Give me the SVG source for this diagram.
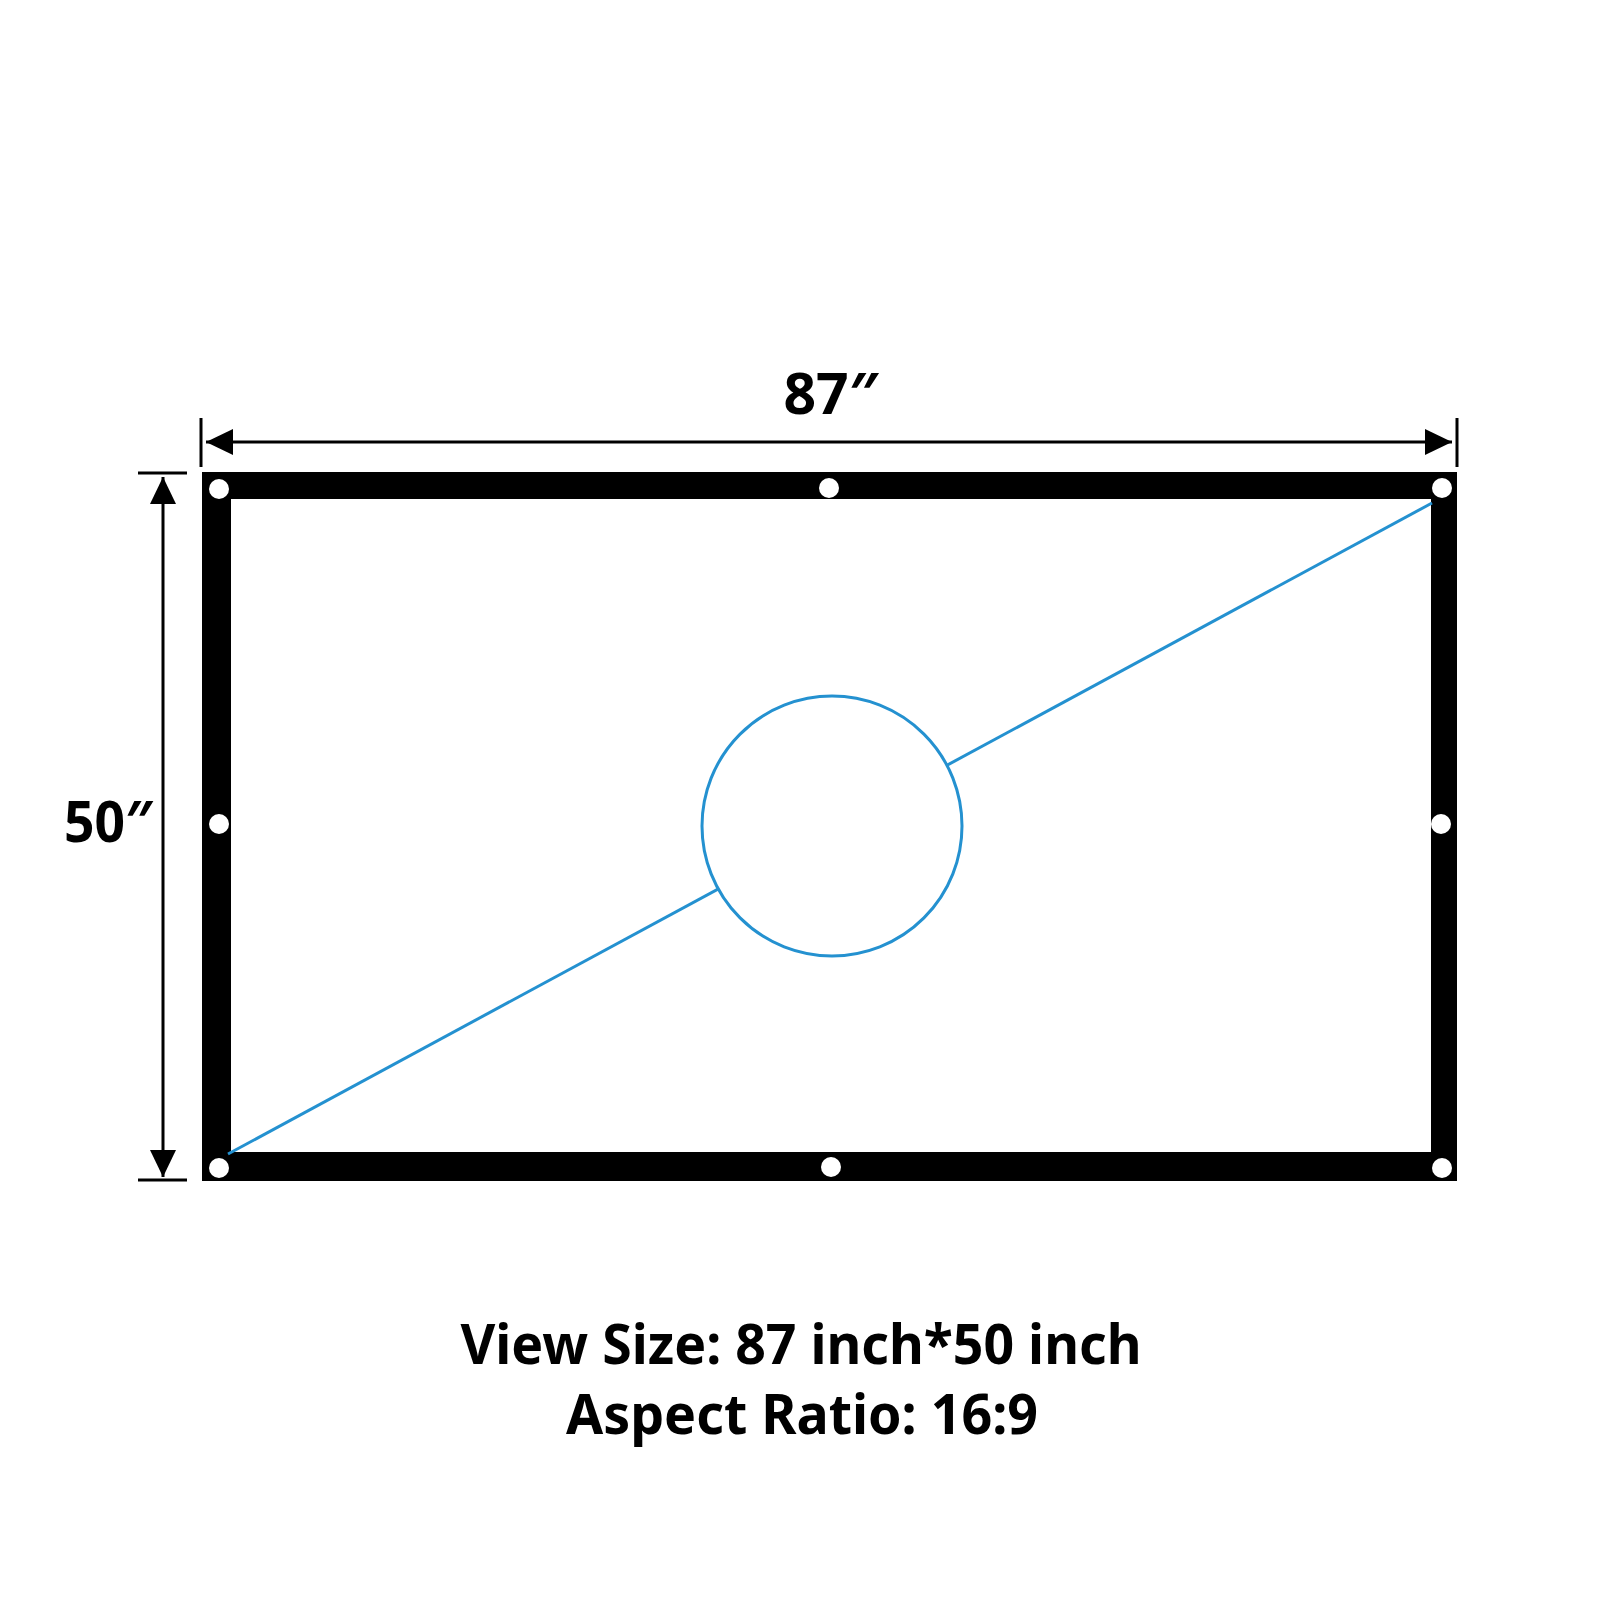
<svg xmlns="http://www.w3.org/2000/svg" width="1600" height="1600" viewBox="0 0 1600 1600">
<defs>
<style>
.lbl{font-family:"Noto Sans","Open Sans","Liberation Sans",sans-serif;font-weight:bold;fill:#000;}
.dim{stroke:#000;stroke-width:3;fill:none;}
.hole{fill:#fff;}
.blue{stroke:#2491d0;stroke-width:3;}
</style>
<marker id="ah" viewBox="0 0 27 26" refX="27" refY="13" markerWidth="27" markerHeight="26" markerUnits="userSpaceOnUse" orient="auto-start-reverse">
<path d="M0,0 L27,13 L0,26 z" fill="#000"/>
</marker>
</defs>
<rect width="1600" height="1600" fill="#fff"/>
<g id="dimensions">
<line class="dim" x1="201" y1="418" x2="201" y2="467"/>
<line class="dim" x1="1457" y1="418" x2="1457" y2="467"/>
<line class="dim" x1="206" y1="442" x2="1452" y2="442" marker-start="url(#ah)" marker-end="url(#ah)"/>
<line class="dim" x1="138" y1="473" x2="187" y2="473"/>
<line class="dim" x1="138" y1="1180" x2="187" y2="1180"/>
<line class="dim" x1="163" y1="477" x2="163" y2="1177" marker-start="url(#ah)" marker-end="url(#ah)"/>
<text class="lbl" x="831" y="414" font-size="57" text-anchor="middle">87″</text>
<text class="lbl" x="64" y="842" font-size="57" textLength="89" lengthAdjust="spacingAndGlyphs">50″</text>
</g>
<g id="screen">
<path d="M202,472 H1457 V1181 H202 Z M231,499 V1152 H1431 V499 Z" fill="#000" fill-rule="evenodd"/>
<circle class="hole" cx="219" cy="489" r="10"/>
<circle class="hole" cx="829" cy="488" r="10"/>
<circle class="hole" cx="1442" cy="488" r="10"/>
<circle class="hole" cx="219" cy="824" r="10"/>
<circle class="hole" cx="1441" cy="824" r="10"/>
<circle class="hole" cx="219" cy="1168" r="10"/>
<circle class="hole" cx="831" cy="1167" r="10"/>
<circle class="hole" cx="1442" cy="1168" r="10"/>
</g>
<g id="diagonal">
<line class="blue" x1="228" y1="1154" x2="1432" y2="503"/>
<circle class="blue" cx="832" cy="826" r="130" fill="#fff"/>
</g>
<g id="caption">
<text class="lbl" x="801" y="1364" font-size="56" text-anchor="middle" textLength="681" lengthAdjust="spacingAndGlyphs">View Size: 87 inch*50 inch</text>
<text class="lbl" x="802" y="1434" font-size="56" text-anchor="middle" textLength="472" lengthAdjust="spacingAndGlyphs">Aspect Ratio: 16:9</text>
</g>
</svg>
